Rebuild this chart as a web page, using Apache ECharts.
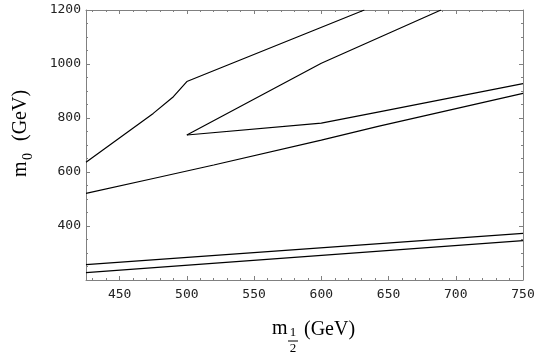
<!DOCTYPE html>
<html>
<head>
<meta charset="utf-8">
<script src="https://cdn.jsdelivr.net/npm/echarts@6/dist/echarts.min.js"></script>
<style>
html, body { margin: 0; padding: 0; background: #fff; }
#chart { width: 545px; height: 361px; }
</style>
</head>
<body>
<div id="chart"></div>
<script>
// tick labels shown on the axes
const xTicks = [450, 500, 550, 600, 650, 700, 750];
const yTicks = [400, 600, 800, 1000, 1200];

// curves: m_1/2 (GeV) -> m_0 (GeV)
const upperEdgeX = [425, 475, 490, 500, 632];
const upperEdgeY = [636, 817, 879, 935, 1200];
const wedgeTopX = [500, 600, 689];
const wedgeTopY = [737, 1003, 1200];
const wedgeBottomX = [500, 600, 643, 750];
const wedgeBottomY = [737, 781, 823, 927];
const midLineX = [425, 475, 520, 600, 643, 750];
const midLineY = [521, 576, 626, 718, 770, 891];
const lowLine1X = [425, 750];
const lowLine1Y = [257, 373];
const lowLine2X = [425, 750];
const lowLine2Y = [227, 346];

const curves = [
  [upperEdgeX, upperEdgeY],
  [wedgeTopX, wedgeTopY],
  [wedgeBottomX, wedgeBottomY],
  [midLineX, midLineY],
  [lowLine1X, lowLine1Y],
  [lowLine2X, lowLine2Y]
]

const frameColor = '#808080'
const labelFont = {
  color: '#222',
  fontFamily: 'DejaVu Sans Mono',
  fontSize: 13
}

const chart = echarts.init(document.getElementById('chart'))

const xBase = {
  type: 'value',
  min: 425,
  max: 750,
  splitLine: { show: false },
  axisLine: { show: true, onZero: false, lineStyle: { color: frameColor, width: 1 } },
  axisTick: { show: true, inside: true, length: 4, lineStyle: { color: frameColor } },
  minorTick: { show: true, splitNumber: 5, length: 2, lineStyle: { color: frameColor } }
}
const yBase = {
  type: 'value',
  min: 200,
  max: 1200,
  interval: 200,
  splitLine: { show: false },
  axisLine: { show: true, onZero: false, lineStyle: { color: frameColor, width: 1 } },
  axisTick: { show: true, inside: true, length: 4, lineStyle: { color: frameColor } },
  minorTick: { show: true, splitNumber: 4, length: 2, lineStyle: { color: frameColor } }
}

const serif = '"Liberation Serif", "DejaVu Serif", serif'

let options = {
  animation: false,
  backgroundColor: '#fff',
  grid: { left: 86, right: 22, top: 10, bottom: 81 },
  xAxis: [
    Object.assign({}, xBase, {
      position: 'bottom',
      axisLabel: Object.assign({
        margin: 8,
        formatter: v => (xTicks.includes(v) ? String(v) : '')
      }, labelFont)
    }),
    Object.assign({}, xBase, { position: 'top', axisLabel: { show: false } })
  ],
  yAxis: [
    Object.assign({}, yBase, {
      position: 'left',
      axisLabel: Object.assign({
        margin: 5,
        formatter: v => (yTicks.includes(v) ? String(v) : '')
      }, labelFont)
    }),
    Object.assign({}, yBase, { position: 'right', axisLabel: { show: false } })
  ],
  series: curves.map(c => ({
    type: 'line',
    xAxisIndex: 0,
    yAxisIndex: 0,
    showSymbol: false,
    symbol: 'none',
    clip: true,
    lineStyle: { color: '#000', width: 1.2 },
    data: c[0].map((x, i) => [x, c[1][i]])
  })),
  graphic: [
    // y axis title: m_0 (GeV), rotated
    {
      type: 'group',
      x: 27,
      y: 177,
      rotation: Math.PI / 2,
      children: [
        { type: 'text', x: 0, y: -6, style: { text: 'm', font: '20px ' + serif, fill: '#000', verticalAlign: 'middle' } },
        { type: 'text', x: 17, y: 1, style: { text: '0', font: '14px ' + serif, fill: '#000', verticalAlign: 'middle' } },
        { type: 'text', x: 36, y: -6, style: { text: '(GeV)', font: '20px ' + serif, fill: '#000', verticalAlign: 'middle' } }
      ]
    },
    // x axis title: m_{1/2} (GeV)
    { type: 'text', x: 272, y: 329, style: { text: 'm', font: '20px ' + serif, fill: '#000', verticalAlign: 'middle' } },
    { type: 'text', x: 293, y: 333, style: { text: '1', font: '13px ' + serif, fill: '#000', align: 'center', verticalAlign: 'middle' } },
    { type: 'line', shape: { x1: 288, y1: 341, x2: 298, y2: 341 }, style: { stroke: '#000', lineWidth: 1 } },
    { type: 'text', x: 293, y: 349, style: { text: '2', font: '13px ' + serif, fill: '#000', align: 'center', verticalAlign: 'middle' } },
    { type: 'text', x: 304, y: 330, style: { text: '(GeV)', font: '20px ' + serif, fill: '#000', verticalAlign: 'middle' } }
  ]
}

chart.setOption(options)
</script>
</body>
</html>
